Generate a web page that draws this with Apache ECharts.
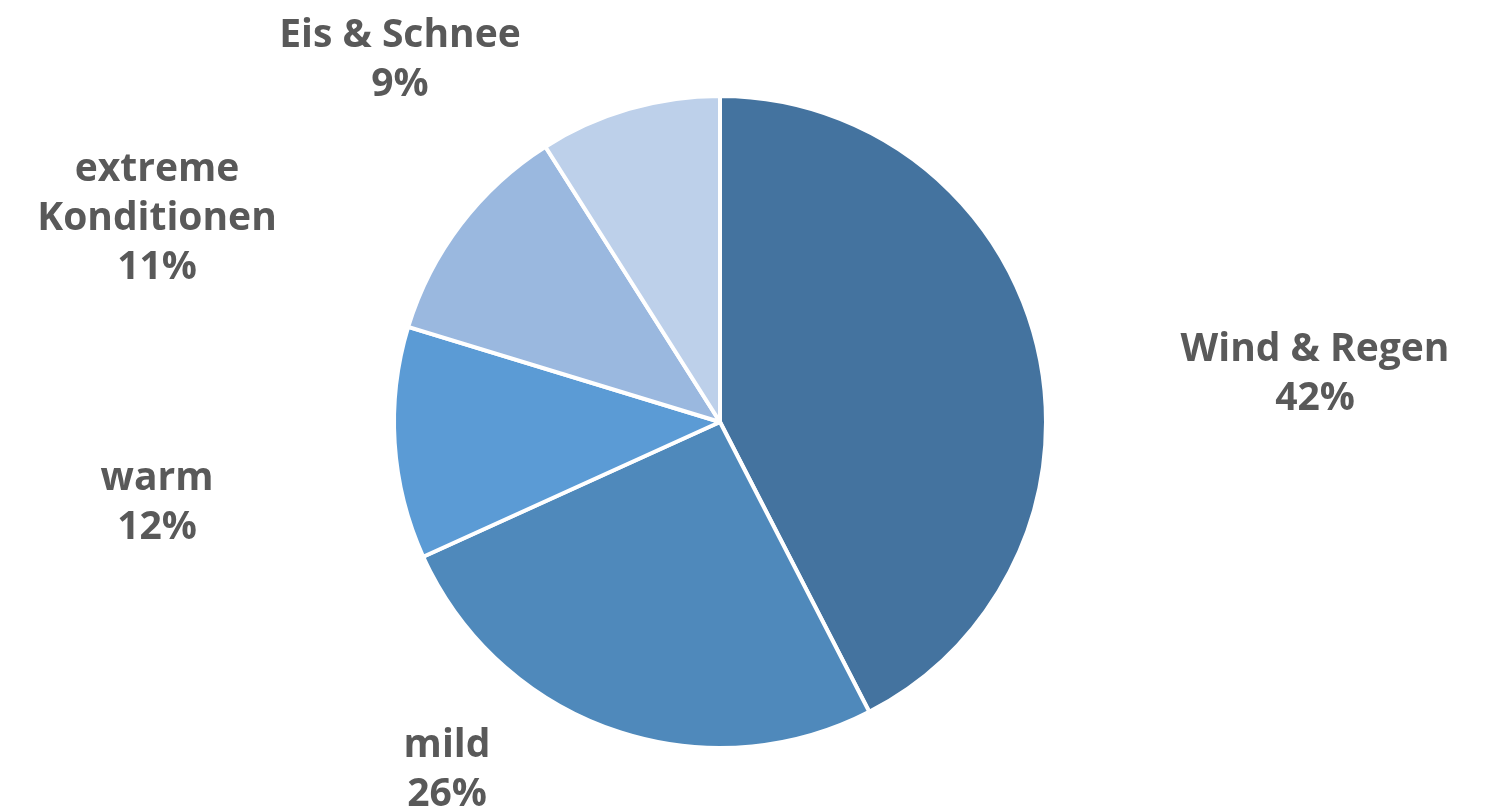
<!DOCTYPE html>
<html><head><meta charset="utf-8">
<script src="https://cdn.jsdelivr.net/npm/echarts@6/dist/echarts.min.js"></script>
<style>html,body{margin:0;padding:0;background:#fff}#c{width:1487px;height:810px}</style>
</head><body><div id="c"></div>
<script>
const categories = ['Wind & Regen', 'mild', 'warm', 'extreme\nKonditionen', 'Eis & Schnee'];
const values = [42.45, 25.8, 11.5, 11.3, 9.0];
const colors = ['#44739f', '#4f89bb', '#5b9bd5', '#9ab8df', '#bdd0ea'];
const labelAnchors = [[1315, 374], [447, 770], [157, 503], [157, 219], [400, 60]];

const chart = echarts.init(document.getElementById('c'));
chart.setOption({
  animation: false,
  series: [{
    type: 'pie',
    center: [720, 422],
    radius: 326,
    startAngle: 90,
    clockwise: true,
    data: categories.map((n, i) => ({ name: n, value: values[i], itemStyle: { color: colors[i] } })),
    itemStyle: { borderColor: '#fff', borderWidth: 4 },
    label: {
      show: true,
      position: 'outside',
      formatter: p => p.name + '\n' + Math.round(p.value) + '%',
      fontFamily: 'Open Sans',
      fontWeight: 'bold',
      fontSize: 39,
      lineHeight: 49,
      color: '#595959',
      align: 'center'
    },
    labelLine: { show: false },
    labelLayout: p => ({ x: labelAnchors[p.dataIndex][0], y: labelAnchors[p.dataIndex][1], align: 'center', verticalAlign: 'middle' })
  }]
});
</script></body></html>
